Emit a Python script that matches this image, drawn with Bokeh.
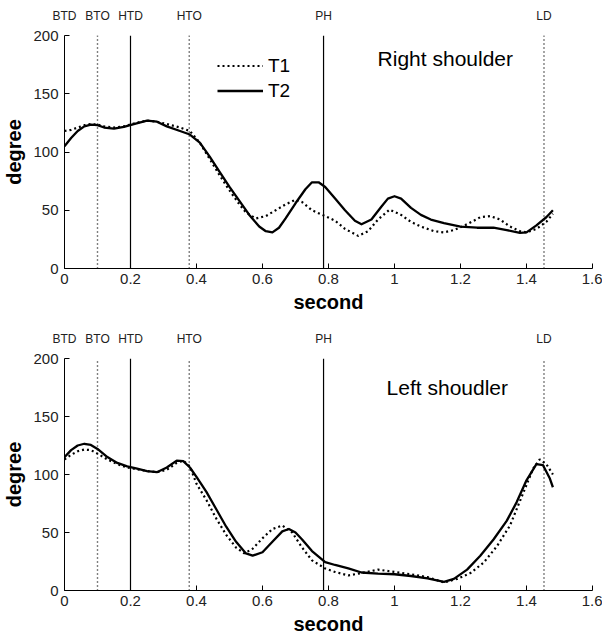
from bokeh.plotting import figure
from bokeh.layouts import column
from bokeh.models import Label, Legend, LegendItem, FixedTicker, LinearAxis
from bokeh.embed import file_html
from bokeh.resources import INLINE

# ---------------- data ----------------
x_ticks = [0, 0.2, 0.4, 0.6, 0.8, 1.0, 1.2, 1.4, 1.6]
x_tick_labels = ["0", "0.2", "0.4", "0.6", "0.8", "1", "1.2", "1.4", "1.6"]
y_ticks = [0, 50, 100, 150, 200]
y_tick_labels = ["0", "50", "100", "150", "200"]

event_names = ["BTD", "BTO", "HTD", "HTO", "PH", "LD"]
event_times = [0.0, 0.10, 0.20, 0.378, 0.785, 1.453]
event_styles = [None, "dotted", "solid", "dotted", "solid", "dotted"]

# Right shoulder, T2 (solid)
rs_t2_x = [0.00, 0.02, 0.04, 0.06, 0.08, 0.10, 0.12, 0.15, 0.18, 0.21, 0.25, 0.28,
           0.31, 0.35, 0.38, 0.41, 0.44, 0.47, 0.50, 0.53, 0.56, 0.59, 0.61, 0.63,
           0.65, 0.67, 0.70, 0.73, 0.75, 0.77, 0.79, 0.82, 0.85, 0.88, 0.90, 0.93,
           0.96, 0.98, 1.00, 1.02, 1.05, 1.08, 1.11, 1.15, 1.20, 1.25, 1.30, 1.34,
           1.38, 1.40, 1.43, 1.46, 1.48]
rs_t2_y = [105, 112, 118, 122, 123.5, 123, 121, 120, 121.5, 124, 127, 126,
           122, 118, 115, 108, 96, 83, 70, 58, 46, 36, 32, 31,
           35, 43, 56, 68, 74, 74, 70, 60, 50, 41, 38, 42,
           53, 60, 62, 60, 52, 46, 42, 39, 36, 35, 35, 33,
           30.5, 31, 37, 44, 50]

# Right shoulder, T1 (dotted)
rs_t1_x = [0.00, 0.02, 0.04, 0.06, 0.08, 0.10, 0.12, 0.15, 0.18, 0.21, 0.25, 0.28,
           0.31, 0.35, 0.38, 0.41, 0.44, 0.47, 0.50, 0.53, 0.55, 0.58, 0.61, 0.64,
           0.67, 0.70, 0.72, 0.75, 0.79, 0.82, 0.85, 0.89, 0.92, 0.95, 0.985, 1.02,
           1.05, 1.08, 1.12, 1.15, 1.18, 1.22, 1.26, 1.29, 1.32, 1.35, 1.38, 1.40,
           1.43, 1.46, 1.48]
rs_t1_y = [118, 119, 121, 123, 124, 123.5, 122, 121, 122, 124.5, 127, 126,
           124, 121, 118, 108, 94, 80, 67, 55, 48, 43, 45, 50,
           55, 59, 57, 50, 45, 41, 34, 28, 32, 42, 50.5, 46,
           40, 36, 32, 31, 33, 38, 44, 45, 42, 36, 32, 31,
           34, 40, 47]

# Left shoulder, T2 (solid)
ls_t2_x = [0.00, 0.02, 0.04, 0.06, 0.08, 0.10, 0.13, 0.16, 0.19, 0.22, 0.25, 0.28,
           0.31, 0.34, 0.36, 0.38, 0.40, 0.43, 0.46, 0.49, 0.52, 0.55, 0.57, 0.60,
           0.63, 0.66, 0.68, 0.70, 0.72, 0.75, 0.79, 0.82, 0.86, 0.90, 0.95, 1.00,
           1.05, 1.10, 1.15, 1.18, 1.22, 1.26, 1.30, 1.34, 1.37, 1.40, 1.43, 1.45,
           1.47, 1.48]
ls_t2_y = [115, 121, 125, 126.5, 125.5, 122, 115, 110, 107, 105, 103, 102,
           106, 112, 111.5, 106, 98, 85, 70, 55, 42, 32, 30, 33,
           42, 51, 53, 50, 44, 34, 24.5, 22, 19, 15.5, 14.5, 14,
           12.5, 10.5, 7.5, 10, 18, 30, 44, 60, 76, 95, 109, 108,
           97, 89]

# Left shoulder, T1 (dotted)
ls_t1_x = [0.00, 0.02, 0.04, 0.06, 0.08, 0.10, 0.13, 0.16, 0.19, 0.22, 0.25, 0.28,
           0.31, 0.34, 0.36, 0.38, 0.40, 0.43, 0.46, 0.49, 0.52, 0.545, 0.57, 0.60,
           0.63, 0.66, 0.69, 0.72, 0.75, 0.79, 0.82, 0.86, 0.90, 0.95, 1.00, 1.05,
           1.10, 1.15, 1.19, 1.23, 1.27, 1.31, 1.35, 1.39, 1.42, 1.44, 1.46, 1.48]
ls_t1_y = [113, 117, 120, 121.5, 121, 118, 113, 109, 106, 104.5, 103, 102,
           104, 110, 112, 107, 92, 78, 62, 48, 37, 32, 36, 45,
           53, 56, 50, 37, 26, 19, 16, 13, 15, 18, 16, 14,
           11.5, 7, 10, 15, 24, 38, 56, 84, 105, 113, 109, 100]

series_names = ["T1", "T2"]

# ---------------- styling ----------------
FONT = "Liberation Sans"
Y_MIN, Y_MAX = 0, 200


def make_panel(height, top, bottom, t1x, t1y, t2x, t2y, title, title_x, title_y,
               with_legend):
    p = figure(width=602, height=height, x_range=(0, 1.6), y_range=(Y_MIN, Y_MAX),
               output_backend="svg", toolbar_location=None,
               min_border_left=63, min_border_right=10,
               min_border_top=top, min_border_bottom=bottom)
    p.grid.visible = False
    p.outline_line_color = None
    p.background_fill_color = "white"
    p.border_fill_color = "white"

    for ax in (p.xaxis[0], p.yaxis[0]):
        ax.axis_line_color = "black"
        ax.axis_line_width = 1
        ax.major_tick_in = 5
        ax.major_tick_out = 0
        ax.minor_tick_line_color = None
        ax.major_tick_line_color = "black"
        ax.major_label_text_font = FONT
        ax.major_label_text_font_size = "15px"
        ax.major_label_text_color = "#222222"
        ax.axis_label_text_font = FONT
        ax.axis_label_text_font_size = "20px"
        ax.axis_label_text_font_style = "bold"
        ax.axis_label_text_color = "black"

    p.xaxis.ticker = FixedTicker(ticks=x_ticks)
    p.xaxis.major_label_overrides = {t: l for t, l in zip(x_ticks, x_tick_labels)}
    p.yaxis.ticker = FixedTicker(ticks=y_ticks)
    p.yaxis.major_label_overrides = {t: l for t, l in zip(y_ticks, y_tick_labels)}
    p.xaxis.axis_label = "second"
    p.yaxis.axis_label = "degree"
    p.xaxis.major_label_standoff = 5
    p.xaxis.axis_label_standoff = 4
    p.yaxis.major_label_standoff = 6
    p.yaxis.axis_label_standoff = 5

    # event labels: an axis above the frame with ticks at the event times
    ev_axis = LinearAxis(ticker=FixedTicker(ticks=event_times),
                         major_label_overrides={t: n for t, n in zip(event_times, event_names)},
                         axis_line_color=None, major_tick_line_color=None,
                         minor_tick_line_color=None, major_tick_in=0, major_tick_out=0,
                         major_label_standoff=13,
                         major_label_text_font=FONT, major_label_text_font_size="12px",
                         major_label_text_color="#222222")
    p.add_layout(ev_axis, "above")

    # event lines (from 0 to 200)
    for st, dash, lw in (("solid", "solid", 1.2), ("dotted", "1 3", 1.4)):
        xs = [t for t, s in zip(event_times, event_styles) if s == st]
        p.segment(x0=xs, y0=[Y_MIN] * len(xs), x1=xs, y1=[Y_MAX] * len(xs),
                  line_color="black", line_width=lw, line_dash=dash)

    r1 = p.line(t1x, t1y, line_color="black", line_width=2.2, line_dash="2 3")
    r2 = p.line(t2x, t2y, line_color="black", line_width=2.3, line_join="round")

    p.add_layout(Label(x=title_x, y=title_y, text=title, text_align="center",
                       text_baseline="middle", text_font=FONT,
                       text_font_size="21px", text_color="black"))

    if with_legend:
        legend = Legend(items=[LegendItem(label=series_names[0], renderers=[r1]),
                               LegendItem(label=series_names[1], renderers=[r2])],
                        location=(153, 165), orientation="vertical",
                        padding=0, margin=0, spacing=0,
                        glyph_width=46, glyph_height=25, label_height=25,
                        label_standoff=5, border_line_color=None,
                        background_fill_alpha=0,
                        label_text_font=FONT, label_text_font_size="19px",
                        label_text_color="black")
        p.add_layout(legend)
    return p


p1 = make_panel(320, 35, 52, rs_t1_x, rs_t1_y, rs_t2_x, rs_t2_y,
                "Right shoulder", 1.154, 180, True)
p2 = make_panel(319, 38, 49, ls_t1_x, ls_t1_y, ls_t2_x, ls_t2_y,
                "Left shoudler", 1.16, 175, False)

layout = column(p1, p2, spacing=0)
open("out.html", "w").write(file_html(layout, INLINE))
